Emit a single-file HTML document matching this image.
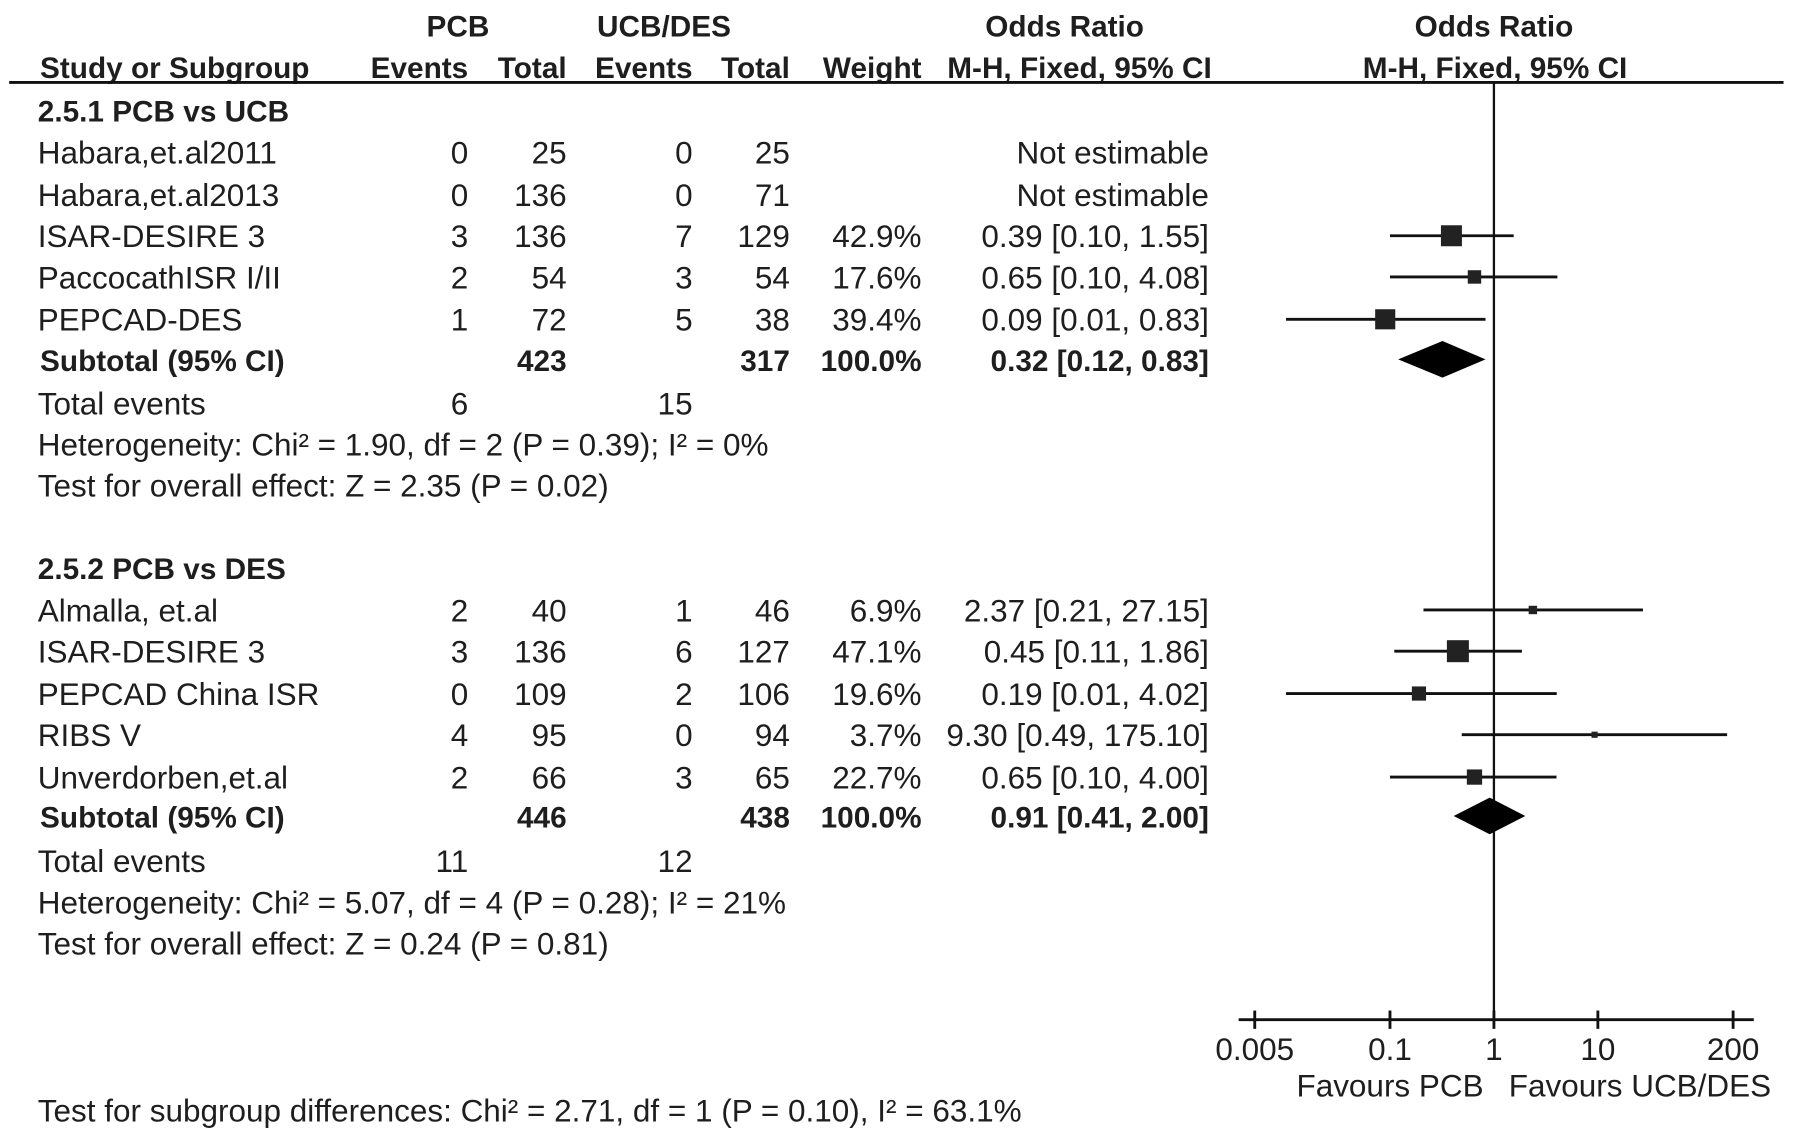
<!DOCTYPE html>
<html><head><meta charset="utf-8"><style>
html,body{margin:0;padding:0;background:#fff;}
svg{display:block;}
text{font-family:"Liberation Sans",Arial,sans-serif;font-size:27.5px;fill:#1e1e1e;}
.b{font-weight:bold;font-size:26px;}
</style></head><body>
<svg id="chart" width="1795" height="1133" viewBox="0 0 1568 990" preserveAspectRatio="none">
<g id="txt"></g>
<g id="plot"></g>
</svg>
<script>
const studies = ["Habara,et.al2011","Habara,et.al2013","ISAR-DESIRE 3","PaccocathISR I/II","PEPCAD-DES","Almalla, et.al","ISAR-DESIRE 3","PEPCAD China ISR","RIBS V","Unverdorben,et.al"];
const studyY = [133,170,206,242,279,533,569,606,642,679];
const ev1 = ["0","0","3","2","1","2","3","0","4","2"];
const tot1 = ["25","136","136","54","72","40","136","109","95","66"];
const ev2 = ["0","0","7","3","5","1","6","2","0","3"];
const tot2 = ["25","71","129","54","38","46","127","106","94","65"];
const weights = [null,null,42.9,17.6,39.4,6.9,47.1,19.6,3.7,22.7];
const orVal = [null,null,0.39,0.65,0.09,2.37,0.45,0.19,9.30,0.65];
const ciLo = [null,null,0.10,0.10,0.01,0.21,0.11,0.01,0.49,0.10];
const ciHi = [null,null,1.55,4.08,0.83,27.15,1.86,4.02,175.10,4.00];
const subY = [314,713];
const subTot1 = ["423","446"];
const subTot2 = ["317","438"];
const subOR = [0.32,0.91];
const subLo = [0.12,0.41];
const subHi = [0.83,2.00];
const ticks = [0.005,0.1,1,10,200];
const tickLabels = ["0.005","0.1","1","10","200"];

const NS="http://www.w3.org/2000/svg";
const txt=document.getElementById('txt'), plot=document.getElementById('plot');
function xs(v){return 1305+90.8*Math.log10(v);}
function T(s,x,y,anchor,bold,name){
  const t=document.createElementNS(NS,'text');
  t.setAttribute('x',x);t.setAttribute('y',y+10);
  t.setAttribute('text-anchor',anchor||'start');
  if(bold)t.setAttribute('class','b');
  t.textContent=s;
  
  
  txt.appendChild(t);return t;
}
function L(x1,y1,x2,y2,w,name){
  const l=document.createElementNS(NS,'line');
  l.setAttribute('x1',x1);l.setAttribute('y1',y1);l.setAttribute('x2',x2);l.setAttribute('y2',y2);
  l.setAttribute('stroke','#111');l.setAttribute('stroke-width',w);
  
  
  plot.appendChild(l);return l;
}
T("PCB",400,22,'middle',true,'header-pcb');
T("UCB/DES",580,22,'middle',true,'header-ucb-des');
T("Odds Ratio",930,22,'middle',true,'header-odds-ratio');
T("Odds Ratio",1305,22,'middle',true,'header-odds-ratio-plot');
T("Study or Subgroup",35,58,'start',true,'header-study');
T("Events",409,58,'end',true,'header-events-pcb');
T("Total",495,58,'end',true,'header-total-pcb');
T("Events",605,58,'end',true,'header-events-ucb');
T("Total",690,58,'end',true,'header-total-ucb');
T("Weight",805,58,'end',true,'header-weight');
T("M-H, Fixed, 95% CI",943,58,'middle',true,'header-mh-ci');
T("M-H, Fixed, 95% CI",1306,58,'middle',true,'header-mh-ci-plot');
L(8,72,1558,72,2.5,'header-rule');
T("2.5.1 PCB vs UCB",33,96,'start',true,'subgroup-title');
T("2.5.2 PCB vs DES",33,496,'start',true,'subgroup-title');
L(1305,72,1305,891,2,'null-line');
studies.forEach((s,i)=>{
  const y=studyY[i];
  T(s,33,y,'start',false,'study-name');
  T(ev1[i],409,y,'end',false,'events-pcb');
  T(tot1[i],495,y,'end',false,'total-pcb');
  T(ev2[i],605,y,'end',false,'events-ucb');
  T(tot2[i],690,y,'end',false,'total-ucb');
  if(weights[i]==null){T("Not estimable",1056,y,'end',false,'odds-ratio-value');return;}
  T(weights[i].toFixed(1)+"%",805,y,'end',false,'weight');
  T(orVal[i].toFixed(2)+" ["+ciLo[i].toFixed(2)+", "+ciHi[i].toFixed(2)+"]",1056,y,'end',false,'odds-ratio-value');
  L(xs(ciLo[i]),y,xs(ciHi[i]),y,2.5,'ci-line');
  const sz=2.8*Math.sqrt(weights[i]);
  const r=document.createElementNS(NS,'rect');
  r.setAttribute('x',xs(orVal[i])-sz/2);r.setAttribute('y',y-sz/2);
  r.setAttribute('width',sz);r.setAttribute('height',sz);r.setAttribute('fill','#222');
  
  
  plot.appendChild(r);
});
subY.forEach((y,i)=>{
  T("Subtotal (95% CI)",35,y,'start',true,'subtotal-label');
  T(subTot1[i],495,y,'end',true,'subtotal-total-pcb');
  T(subTot2[i],690,y,'end',true,'subtotal-total-ucb');
  T("100.0%",805,y,'end',true,'subtotal-weight');
  T(subOR[i].toFixed(2)+" ["+subLo[i].toFixed(2)+", "+subHi[i].toFixed(2)+"]",1056,y,'end',true,'subtotal-or');
  const p=document.createElementNS(NS,'polygon');
  const h=16;
  p.setAttribute('points',`${xs(subLo[i])},${y} ${xs(subOR[i])},${y-h} ${xs(subHi[i])},${y} ${xs(subOR[i])},${y+h}`);
  p.setAttribute('fill','#000');
  
  
  plot.appendChild(p);
});
T("Total events",33,352,'start',false,'total-events-label');
T("6",409,352,'end',false,'total-events-pcb');
T("15",605,352,'end',false,'total-events-ucb');
T("Heterogeneity: Chi² = 1.90, df = 2 (P = 0.39); I² = 0%",33,388,'start',false,'heterogeneity');
T("Test for overall effect: Z = 2.35 (P = 0.02)",33,424,'start',false,'overall-effect');
T("Total events",33,752,'start',false,'total-events-label');
T("11",409,752,'end',false,'total-events-pcb');
T("12",605,752,'end',false,'total-events-ucb');
T("Heterogeneity: Chi² = 5.07, df = 4 (P = 0.28); I² = 21%",33,788,'start',false,'heterogeneity');
T("Test for overall effect: Z = 0.24 (P = 0.81)",33,824,'start',false,'overall-effect');
T("Test for subgroup differences: Chi² = 2.71, df = 1 (P = 0.10), I² = 63.1%",33,970,'start',false,'subgroup-differences');
L(1082,891,1532,891,2.5,'x-axis');
ticks.forEach((v,i)=>{
  L(xs(v),883,xs(v),899,2.5,'x-tick');
  T(tickLabels[i],xs(v),916,'middle',false,'x-tick-label');
});
T("Favours PCB",1296,948,'end',false,'favours-pcb');
T("Favours UCB/DES",1318,948,'start',false,'favours-ucb-des');
</script>
</body></html>
